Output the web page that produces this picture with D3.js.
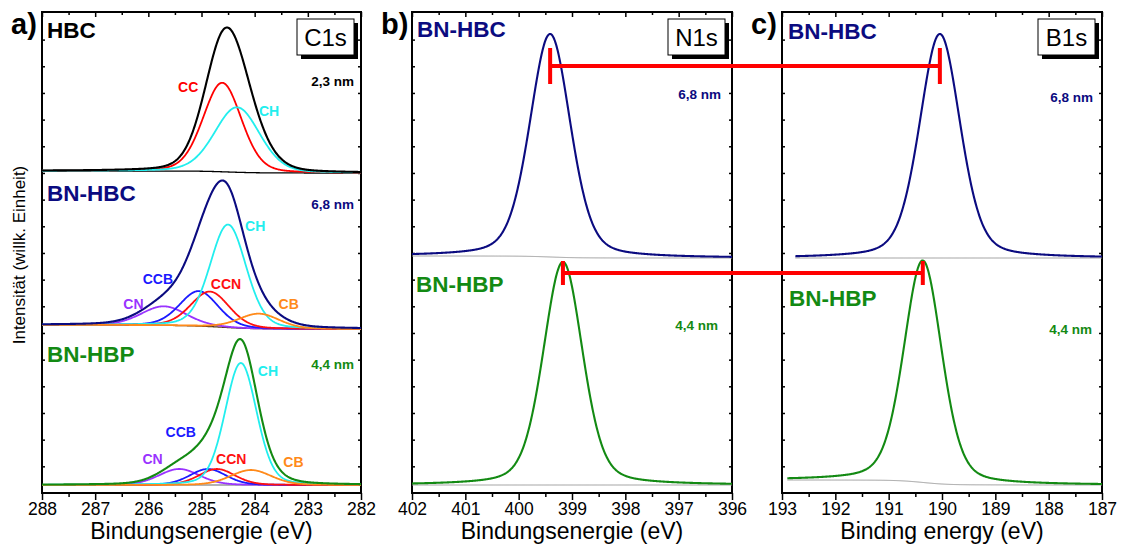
<!DOCTYPE html>
<html>
<head>
<meta charset="utf-8">
<script src="https://cdn.jsdelivr.net/npm/d3@7"></script>
<style>
  body { margin: 0; background: #fff; }
  text { font-family: "Liberation Sans", Arial, sans-serif; }
</style>
</head>
<body>
<svg id="chart" width="1122" height="546"></svg>
<script>
// energy windows (eV) and tick labels
const c1sDomain = [288, 282];
const n1sDomain = [402, 396];
const b1sDomain = [193, 187];
const c1sTicks = [288, 287, 286, 285, 284, 283, 282];
const n1sTicks = [402, 401, 400, 399, 398, 397, 396];
const b1sTicks = [193, 192, 191, 190, 189, 188, 187];

// fitted components: [name, centre eV, height (counts), fwhm eV]
const c1sHBC = [["CC", 284.61, 89, 0.85], ["CH", 284.33, 65, 1.0]];
const c1sBNHBC = [
  ["CN", 285.71, 19, 1.0],
  ["CCB", 285.05, 35, 0.85],
  ["CCN", 284.84, 35, 0.85],
  ["CH", 284.5, 103, 0.8],
  ["CB", 283.92, 15, 0.9]
];
const c1sBNHBP = [
  ["CN", 285.42, 16, 0.9],
  ["CCB", 284.88, 16, 0.8],
  ["CCN", 284.71, 16, 0.8],
  ["CH", 284.26, 122, 0.7],
  ["CB", 284.07, 15, 0.9]
];
const n1sBNHBC = [["N", 399.41, 223, 0.9]];
const n1sBNHBP = [["N", 399.17, 223, 0.87]];
const b1sBNHBC = [["B", 190.04, 224, 0.9]];
const b1sBNHBP = [["B", 190.36, 222, 0.84]];

// stack offsets and background steps (counts), measured energy ranges
const stackOffsets = [320, 164, 8, 235, 8, 235, 8];
const bgSteps = [2, 4, 0, 2, 0, 0, 5];
const ranges = [c1sDomain, c1sDomain, c1sDomain, n1sDomain, n1sDomain, [192.75, 187], [192.9, 187]];

// component label anchors: [name, eV, counts]
const labelsHBC = [["CC", 285.25, 401], ["CH", 283.73, 377]];
const labelsBNHBC = [["CH", 283.99, 262], ["CCB", 285.82, 209], ["CCN", 284.54, 204], ["CN", 286.28, 184], ["CB", 283.36, 184]];
const labelsBNHBP = [["CH", 283.75, 117], ["CCB", 285.39, 56], ["CN", 285.92, 29], ["CCN", 284.44, 29], ["CB", 283.27, 26]];

// N1s -> B1s peak connectors: [N1s eV, B1s eV, level counts]
const connectors = [[399.41, 190.04, 427], [399.17, 190.36, 220]];

const navy = "#0b0b80", green = "#138a13";
const compColor = { CC: "#ff0000", CH: "#22eeee", CN: "#9933ff", CCB: "#1a1aff", CCN: "#ff1010", CB: "#ff8a1a" };

const svg = d3.select("#chart");
const plotTop = 12, plotBottom = 493;
const y = d3.scaleLinear().domain([0, 481]).range([plotBottom, plotTop]);

const panels = [
  { domain: c1sDomain, ticks: c1sTicks, left: 42, right: 361, core: "C1s", title: "Bindungsenergie (eV)", tag: "a)" },
  { domain: n1sDomain, ticks: n1sTicks, left: 412, right: 732, core: "N1s", title: "Bindungsenergie (eV)", tag: "b)" },
  { domain: b1sDomain, ticks: b1sTicks, left: 782, right: 1102, core: "B1s", title: "Binding energy (eV)", tag: "c)" }
];
panels.forEach((p) => (p.x = d3.scaleLinear().domain(p.domain).range([p.left, p.right])));

const spectra = [
  { panel: 0, comps: c1sHBC, eta: 0.2, env: "#000", bg: "#000", showComps: true },
  { panel: 0, comps: c1sBNHBC, eta: 0.2, env: navy, bg: "#5a3a1a", showComps: true },
  { panel: 0, comps: c1sBNHBP, eta: 0.2, env: green, bg: "#999", showComps: true },
  { panel: 1, comps: n1sBNHBC, eta: 0.3, env: navy, bg: "#999" },
  { panel: 1, comps: n1sBNHBP, eta: 0.3, env: green, bg: "#999" },
  { panel: 2, comps: b1sBNHBC, eta: 0.3, env: navy, bg: "#999" },
  { panel: 2, comps: b1sBNHBP, eta: 0.3, env: green, bg: "#999" }
];

function pv(e, c, h, w, eta) {
  const t = (e - c) / w;
  return h * ((1 - eta) * Math.exp(-4 * Math.LN2 * t * t) + eta / (1 + 4 * t * t));
}

// axes and frames
panels.forEach((p) => {
  const g = svg.append("g");
  const minor = d3.range(p.domain[0], p.domain[1] - 0.01, -0.5).filter((d) => d % 1 !== 0);

  const bx = g.append("g").attr("transform", `translate(0,${plotBottom})`)
    .call(d3.axisBottom(p.x).tickValues(p.ticks).tickSize(7).tickPadding(3).tickFormat(d3.format("d")));
  bx.selectAll("text").attr("font-size", "17.5px").attr("fill", "#000").style("font-family", "Liberation Sans, Arial");
  g.append("g").attr("transform", `translate(0,${plotBottom})`)
    .call(d3.axisBottom(p.x).tickValues(minor).tickSize(4).tickFormat(""));
  g.append("g").attr("transform", `translate(0,${plotTop})`)
    .call(d3.axisTop(p.x).tickValues(p.ticks).tickSize(-5).tickFormat(""));
  g.append("g").attr("transform", `translate(0,${plotTop})`)
    .call(d3.axisTop(p.x).tickValues(minor).tickSize(-3).tickFormat(""));
  const yt = d3.range(26.67, 480, 26.67);
  g.append("g").attr("transform", `translate(${p.left},0)`)
    .call(d3.axisLeft(y).tickValues(yt).tickSize(-3).tickFormat(""));
  g.append("g").attr("transform", `translate(${p.right},0)`)
    .call(d3.axisRight(y).tickValues(yt).tickSize(-3).tickFormat(""));
  g.selectAll(".domain").remove();
  g.selectAll(".tick line").attr("stroke", "#000").attr("stroke-width", 1.5);

  g.append("rect")
    .attr("x", p.left).attr("y", plotTop)
    .attr("width", p.right - p.left).attr("height", plotBottom - plotTop)
    .attr("fill", "none").attr("stroke", "#000").attr("stroke-width", 2);

  svg.append("text")
    .attr("x", (p.left + p.right) / 2).attr("y", 539)
    .attr("text-anchor", "middle").attr("font-size", "23px")
    .text(p.title);

  svg.append("text")
    .attr("x", p.left - 31).attr("y", 34)
    .attr("font-size", "29px").attr("font-weight", "bold")
    .text(p.tag);
});

// spectra
const clipIds = panels.map((p, i) => {
  svg.append("clipPath").attr("id", "clip" + i)
    .append("rect").attr("x", p.left).attr("y", plotTop)
    .attr("width", p.right - p.left).attr("height", plotBottom - plotTop);
  return "url(#clip" + i + ")";
});

spectra.forEach((s, k) => {
  const p = panels[s.panel];
  const r = ranges[k];
  const es = d3.range(r[0], r[1] - 0.001, -0.01);
  const parts = s.comps.map((c) => es.map((e) => pv(e, c[1], c[2], c[3], s.eta)));
  const sum = es.map((e, i) => d3.sum(parts, (q) => q[i]));
  // Shirley-like step: share of peak area lying at lower binding energy
  const cum = new Array(es.length);
  let acc = 0;
  for (let i = es.length - 1; i >= 0; i--) { acc += sum[i]; cum[i] = acc; }
  const bg = es.map((e, i) => stackOffsets[k] + bgSteps[k] * cum[i] / acc);

  const line = d3.line().x((d) => p.x(d[0])).y((d) => y(d[1]));
  const g = svg.append("g").attr("clip-path", clipIds[s.panel]).attr("fill", "none");

  g.append("path")
    .attr("d", line(es.map((e, i) => [e, bg[i]])))
    .attr("stroke", s.bg).attr("stroke-width", s.panel === 0 ? 1.3 : 1);

  if (s.showComps) {
    s.comps.forEach((c, j) => {
      g.append("path")
        .attr("d", line(es.map((e, i) => [e, bg[i] + parts[j][i]])))
        .attr("stroke", compColor[c[0]]).attr("stroke-width", 1.8);
    });
  }
  g.append("path")
    .attr("d", line(es.map((e, i) => [e, bg[i] + sum[i]])))
    .attr("stroke", s.env).attr("stroke-width", 2.1);
});

// component labels in panel a
[labelsHBC, labelsBNHBC, labelsBNHBP].forEach((set) => {
  set.forEach((l) => {
    svg.append("text")
      .attr("x", panels[0].x(l[1])).attr("y", y(l[2]))
      .attr("text-anchor", "middle").attr("font-size", "14px").attr("font-weight", "bold")
      .attr("fill", compColor[l[0]])
      .text(l[0]);
  });
});

// sample names
const names = [
  ["HBC", "#000", 47, 38], ["BN-HBC", navy, 47, 201], ["BN-HBP", green, 47, 362],
  ["BN-HBC", navy, 417, 37], ["BN-HBP", green, 416, 292],
  ["BN-HBC", navy, 788, 39], ["BN-HBP", green, 789, 306]
];
names.forEach((n) => {
  svg.append("text").attr("x", n[2]).attr("y", n[3])
    .attr("font-size", "22.5px").attr("font-weight", "bold").attr("fill", n[1])
    .text(n[0]);
});

// film thickness notes
const thick = [
  ["2,3 nm", "#000", 354, 86], ["6,8 nm", navy, 354, 209], ["4,4 nm", green, 354, 369],
  ["6,8 nm", navy, 721, 99], ["4,4 nm", green, 718, 330],
  ["6,8 nm", navy, 1093, 102], ["4,4 nm", green, 1092, 334]
];
thick.forEach((n) => {
  svg.append("text").attr("x", n[2]).attr("y", n[3])
    .attr("text-anchor", "end").attr("font-size", "13.5px").attr("font-weight", "bold").attr("fill", n[1])
    .text(n[0]);
});

// core-level boxes
panels.forEach((p) => {
  const bx = p.right - 64;
  svg.append("rect").attr("x", bx + 4).attr("y", 23).attr("width", 57).attr("height", 36).attr("fill", "#000");
  svg.append("rect").attr("x", bx).attr("y", 19).attr("width", 57).attr("height", 36)
    .attr("fill", "#fff").attr("stroke", "#000").attr("stroke-width", 1);
  svg.append("text").attr("x", bx + 28.5).attr("y", 46)
    .attr("text-anchor", "middle").attr("font-size", "24px")
    .text(p.core);
});

// red connectors between N1s and B1s peaks
connectors.forEach((c, i) => {
  const x1 = panels[1].x(c[0]), x2 = panels[2].x(c[1]), yy = y(c[2]);
  const cap = i === 0 ? 18 : 12;
  const g = svg.append("g").attr("stroke", "#ff0000").attr("stroke-width", 4);
  g.append("line").attr("x1", x1).attr("x2", x2).attr("y1", yy).attr("y2", yy);
  g.append("line").attr("x1", x1).attr("x2", x1).attr("y1", yy - cap).attr("y2", yy + cap);
  g.append("line").attr("x1", x2).attr("x2", x2).attr("y1", yy - cap).attr("y2", yy + cap);
});

// y axis title
svg.append("text")
  .attr("transform", "translate(25,255) rotate(-90)")
  .attr("text-anchor", "middle").attr("font-size", "17px")
  .text("Intensität (willk. Einheit)");
</script>
</body>
</html>
